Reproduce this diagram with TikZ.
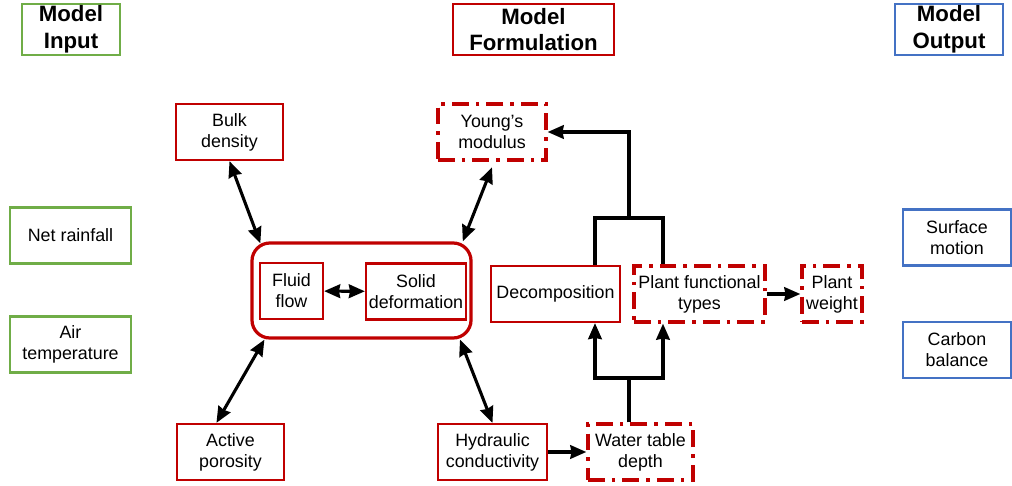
\documentclass[tikz,border=0pt]{standalone}
\usepackage{fontspec}
\setmainfont{Liberation Sans}
\usepackage{xcolor}
\usetikzlibrary{arrows.meta,positioning}
\definecolor{inGreen}{RGB}{112,173,71}
\definecolor{fRed}{RGB}{192,0,0}
\definecolor{outBlue}{RGB}{68,114,196}
\newcommand{\lblfont}{\fontsize{12.7}{15}\selectfont}
\tikzset{
  head/.style={rectangle, draw, line width=1.6pt, align=center,
    minimum height=1.275cm, inner sep=1pt, font=\fontsize{15.8}{19}\selectfont\bfseries},
  inbox/.style={rectangle, draw=inGreen, line width=1.5pt, align=center,
    minimum width=3.025cm, minimum height=1.4cm, inner sep=1pt, font=\lblfont},
  outbox/.style={rectangle, draw=outBlue, line width=1.5pt, align=center,
    minimum width=2.7cm, minimum height=1.4cm, inner sep=1pt, font=\lblfont},
  proc/.style={rectangle, draw=fRed, line width=1.6pt, align=center,
    minimum height=1.4cm, inner sep=1pt, font=\lblfont},
  unc/.style={proc, line width=2.4pt,
    dash pattern=on 12pt off 5pt on 2.5pt off 5pt},
  core/.style={rectangle, rounded corners=0.45cm, draw=fRed, line width=2.3pt,
    minimum width=5.475cm, minimum height=2.375cm},
  arr/.style={-{Stealth[length=4mm, width=3.4mm, inset=0.3mm]}, line width=2.2pt},
  dbl/.style={{Stealth[length=4mm, width=3.4mm, inset=0.3mm]}-{Stealth[length=4mm, width=3.4mm, inset=0.3mm]}, line width=2.2pt},
  wire/.style={line width=2.2pt},
}

\begin{document}
\begin{tikzpicture}[x=0.025cm, y=-0.025cm]
  \useasboundingbox (0,0) rectangle (1012,486);
  \node[head, draw=inGreen, minimum width=2.45cm] (tin) at (71,29.5) {Model\\Input};
  \node[head, draw=fRed, minimum width=4.025cm] (tform) at (533.5,29.5) {Model\\Formulation};
  \node[head, draw=outBlue, minimum width=2.7cm] (tout) at (949,29.5) {Model\\Output};

  \node[inbox] (rain) at (70.5,235.5) {Net rainfall};
  \node[inbox] (air) at (70.5,344.5) {Air\\temperature};
  \node[outbox] (surf) at (957,237.5) {Surface\\motion};
  \node[outbox] (carbon) at (957,350) {Carbon\\balance};

  \node[core] (core) at (361.5,290.5) {};
  \node[proc, minimum width=1.575cm] (fluid) at (291.5,291) {Fluid\\flow};
  \node[proc, minimum width=2.5cm] (solid) at (416,291.5) {Solid\\deformation};
  \node[proc, minimum width=2.675cm] (bulk) at (229.5,132) {Bulk\\density};
  \node[unc, minimum width=2.7cm] (young) at (492,132) {Young's\\modulus};
  \node[proc, minimum width=2.675cm] (poro) at (230.5,452) {Active\\porosity};
  \node[proc, minimum width=2.725cm] (hydro) at (492.5,452) {Hydraulic\\conductivity};
  \node[unc, minimum width=2.625cm] (water) at (640.5,452) {Water table\\depth};
  \node[proc, minimum width=3.225cm] (decomp) at (555.5,294) {Decomposition};
  \node[unc, minimum width=3.275cm] (pft) at (699.5,294) {Plant functional\\types};
  \node[unc, minimum width=1.5cm] (weight) at (832,294) {Plant\\weight};

  \draw[dbl] (fluid) -- (solid);
  \draw[dbl] (bulk.south) -- ([shift={(10,2)}]core.north west);
  \draw[dbl] ([yshift=-4]young.south) -- ([xshift=-7]core.north east);
  \draw[dbl] ([xshift=-10]poro.north) -- ([xshift=10]core.south west);
  \draw[dbl] (hydro.north) -- ([xshift=-9]core.south east);
  \draw[arr] (hydro) -- (water);
  \draw[arr] (pft) -- (weight);

  \coordinate (jlow) at (629,378);
  \coordinate (lowL) at (595,378);
  \coordinate (lowR) at (663,378);
  \coordinate (jhigh) at (629,218);
  \coordinate (upL) at (595,218);
  \coordinate (upR) at (663,218);
  \draw[wire] (water.north -| jlow) -- (jlow);
  \draw[wire, line cap=rect] (lowL) -- (lowR);
  \draw[arr] (lowL) -- (lowL |- decomp.south);
  \draw[arr] (lowR) -- (lowR |- pft.south);
  \draw[wire] (upL |- decomp.north) -- (upL) -- (upR) -- (upR |- pft.north);
  \draw[arr] (jhigh) |- (young.east);
\end{tikzpicture}
\end{document}
